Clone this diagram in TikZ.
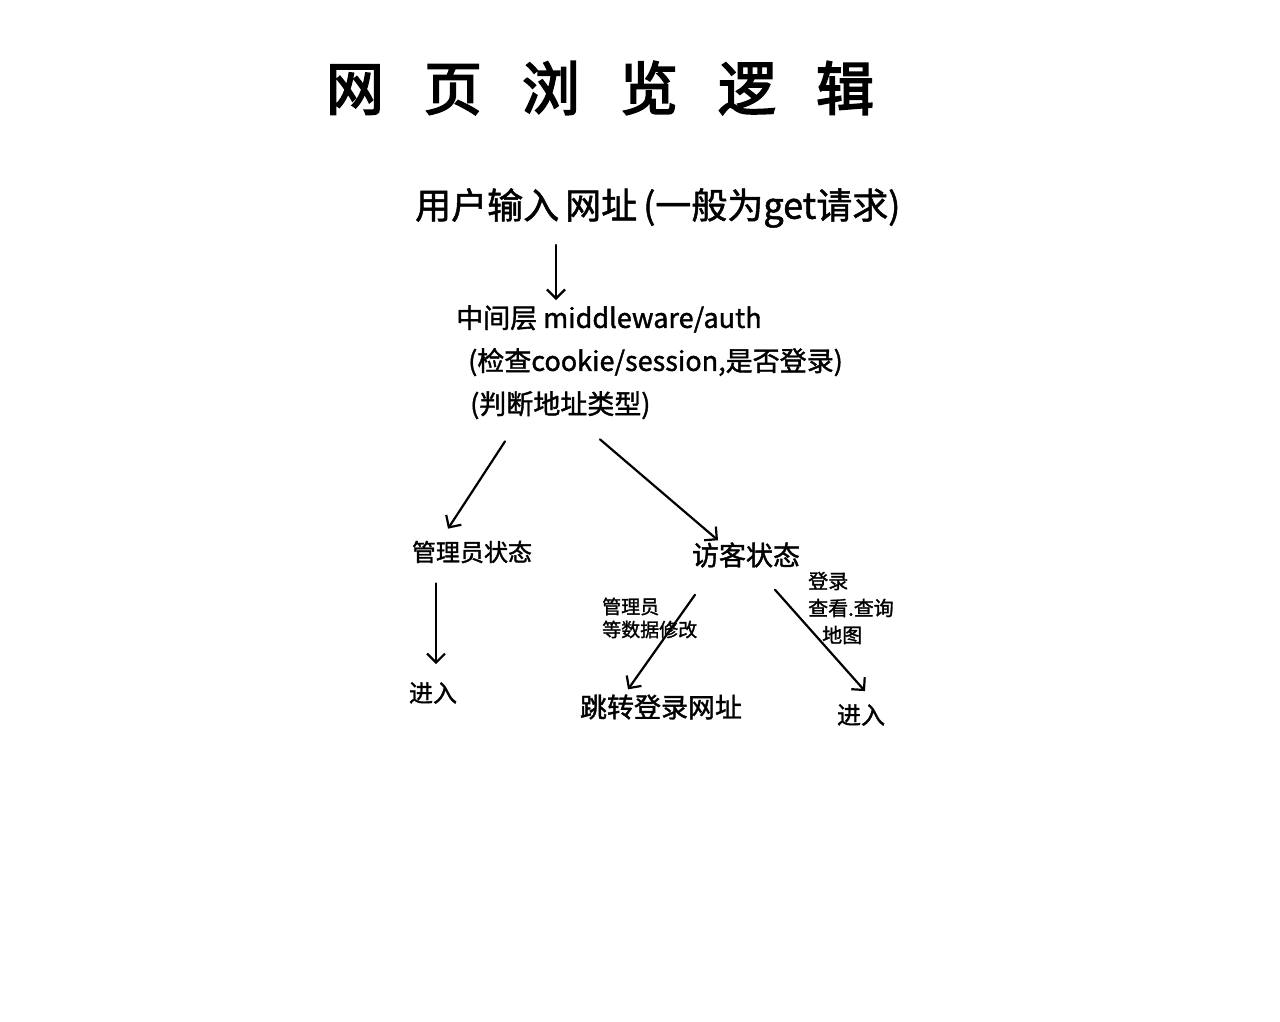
\documentclass[tikz,border=0pt]{standalone}
\usepackage{fontspec}
\setmainfont{Noto Sans CJK SC}
\newfontfamily\titlefont[FakeBold=3]{Noto Sans CJK SC}
\newfontfamily\handfont[FakeBold=1.4]{Noto Sans CJK SC}
\usetikzlibrary{arrows.meta,positioning}

\begin{document}
\begin{tikzpicture}
	[x=1pt,y=-1pt,every node/.style={inner sep=0pt,font=\handfont},
	 arr/.style={line width=2.2pt,line cap=round,-{Straight Barb[length=9pt,width=18pt,line width=2.2pt]}}]

	\useasboundingbox[fill=white] (0,0) rectangle (1280,1021);

	\node (title) at (600,88) {\titlefont\fontsize{58}{60}\selectfont 网\hspace{40pt}页\hspace{40pt}浏\hspace{40pt}览\hspace{40pt}逻\hspace{40pt}辑};
	\node[anchor=west] (user) at (415,208) {\fontsize{36}{40}\selectfont 用户输入\hspace{6pt}网址\hspace{6pt}(一般为get请求)};
	\node[anchor=north west,align=left,font=\handfont\fontsize{27}{43}\selectfont] (mid) at (456,305)
		{中间层 middleware/auth\\
		 \hspace*{12pt}(检查cookie/session,是否登录)\\
		 \hspace*{14pt}(判断地址类型)};
	\node (admin) at (472,552) {\fontsize{24}{26}\selectfont 管理员状态};
	\node (visitor) at (746,555) {\fontsize{27}{30}\selectfont 访客状态};
	\node (enterA) at (433,693) {\fontsize{24}{26}\selectfont 进入};
	\node (jump) at (661,707) {\fontsize{27}{30}\selectfont 跳转登录网址};
	\node (enterB) at (861,715) {\fontsize{24}{26}\selectfont 进入};
	\node[align=left,anchor=west,font=\handfont\fontsize{19}{23}\selectfont] (noteA) at (602,618) {管理员\\等数据修改};
	\node[align=left,anchor=west,font=\handfont\fontsize{20}{27}\selectfont] (noteB) at (808,608) {登录\\查看.查询\\\hspace*{14pt}地图};

	\draw[arr,shorten <=17pt,shorten >=5pt] ([xshift=141pt]user.south west) -- ([xshift=141pt]user.south west |- mid.north);
	\draw[arr] ([xshift=49pt,yshift=-22pt]mid.south west) -- ([xshift=-24pt,yshift=12pt]admin.north);
	\draw[arr] ([xshift=144pt,yshift=-20pt]mid.south west) -- ([xshift=-28pt,yshift=2pt]visitor.north);
	\draw[arr] ([xshift=-36pt,yshift=-20pt]admin.south) -- ([xshift=3pt,yshift=18pt]enterA.north);
	\draw[arr] ([xshift=-51pt,yshift=-27pt]visitor.south) -- ([xshift=-33pt,yshift=5pt]jump.north);
	\draw[arr] ([xshift=29pt,yshift=-22pt]visitor.south) -- ([xshift=4pt,yshift=13pt]enterB.north);
\end{tikzpicture}
\end{document}
